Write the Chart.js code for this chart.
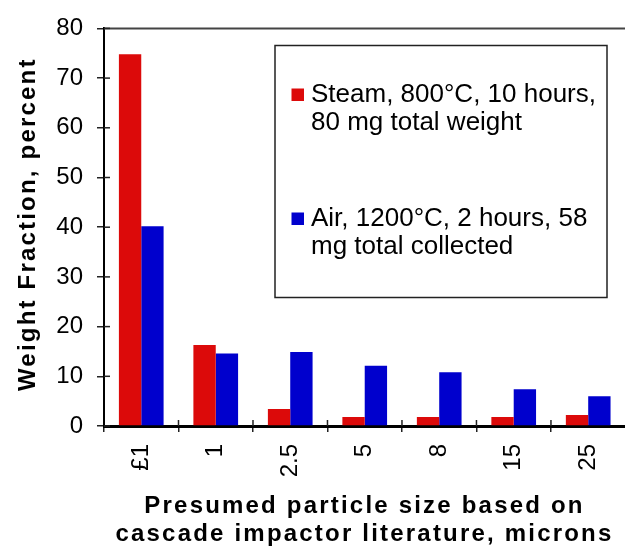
<!DOCTYPE html>
<html>
<head>
<meta charset="utf-8">
<title>Weight fraction by particle size</title>
<script src="https://cdn.jsdelivr.net/npm/chart.js@4.4.1/dist/chart.umd.min.js"></script>
<style>
  html, body { margin: 0; padding: 0; background: #fff; overflow: hidden; }
  /* chart frame runs a few px past the right edge in the original, so the box is wider than the window */
  #wrap { position: relative; width: 629px; height: 546px; }
</style>
</head>
<body>
<div id="wrap"><canvas id="chart"></canvas></div>
<script>
// data
const sizeLabels = ['£1', '1', '2.5', '5', '8', '15', '25'];
const steamValues = [74.8, 16.3, 3.4, 1.8, 1.8, 1.8, 2.2];
const airValues = [40.2, 14.6, 14.9, 12.1, 10.8, 7.4, 6.0];
const steamLegend = ['Steam, 800°C, 10 hours,', '80 mg total weight'];
const airLegend = ['Air, 1200°C, 2 hours, 58', 'mg total collected'];
const yTicks = { min: 0, max: 80, step: 10 };
const yTitle = 'Weight Fraction, percent';
const xTitle = ['Presumed particle size based on', 'cascade impactor literature, microns'];

const FONT = "'Liberation Sans', Arial, Helvetica, sans-serif";
const RED = '#dc0a0a';
const BLUE = '#0000cd';

Chart.defaults.font.family = FONT;
Chart.defaults.color = '#000';

// extra drawing: frame top line, inner half of the ticks, boxed legend, spaced axis titles
const decorations = {
  id: 'decorations',
  afterDraw(chart) {
    const ctx = chart.ctx;
    const area = chart.chartArea;
    const x = chart.scales.x;
    const y = chart.scales.y;

    ctx.save();

    // top edge of the plot frame
    ctx.strokeStyle = '#444';
    ctx.lineWidth = 2;
    ctx.beginPath();
    ctx.moveTo(area.left, area.top);
    ctx.lineTo(chart.width, area.top);
    ctx.stroke();

    // ticks cross the axes: draw the inside half
    ctx.strokeStyle = '#222';
    ctx.lineWidth = 1.5;
    y.ticks.forEach((t, i) => {
      const py = y.getPixelForTick(i);
      ctx.beginPath();
      ctx.moveTo(area.left, py);
      ctx.lineTo(area.left + 6, py);
      ctx.stroke();
    });
    const half = (x.getPixelForTick(1) - x.getPixelForTick(0)) / 2;
    for (let i = 1; i < sizeLabels.length; i++) {
      const px = x.getPixelForTick(i) - half;
      ctx.beginPath();
      ctx.moveTo(px, area.bottom);
      ctx.lineTo(px, area.bottom - 6);
      ctx.stroke();
    }

    // legend box
    const box = { left: 275, top: 45.5, right: 607, bottom: 297.5 };
    ctx.fillStyle = '#fff';
    ctx.fillRect(box.left, box.top, box.right - box.left, box.bottom - box.top);
    ctx.strokeStyle = '#222';
    ctx.lineWidth = 1.5;
    ctx.strokeRect(box.left, box.top, box.right - box.left, box.bottom - box.top);

    ctx.font = '26px ' + FONT;
    ctx.textAlign = 'left';
    ctx.textBaseline = 'alphabetic';
    const itemTops = [102, 226];
    chart.data.datasets.forEach((ds, i) => {
      const base = itemTops[i];
      ctx.fillStyle = ds.backgroundColor;
      ctx.fillRect(291.5, base - 13.5, 12.5, 12.5);
      ctx.fillStyle = '#000';
      ds.legendLines.forEach((line, j) => {
        ctx.fillText(line, 311, base + j * 28);
      });
    });

    // axis titles, bold with wide letter spacing
    ctx.font = 'bold 24px ' + FONT;
    ctx.fillStyle = '#000';
    ctx.letterSpacing = '2.2px';
    ctx.textAlign = 'center';

    ctx.save();
    ctx.translate(35, (area.top + area.bottom) / 2 - 3);
    ctx.rotate(-Math.PI / 2);
    ctx.fillText(yTitle, 0, 0);
    ctx.restore();

    const cx = (area.left + 625) / 2;
    xTitle.forEach((line, j) => {
      ctx.fillText(line, cx, 513 + j * 28);
    });

    ctx.restore();
  }
};

const chart = new Chart(document.getElementById('chart').getContext('2d'), {
  type: 'bar',
  data: {
    labels: sizeLabels,
    datasets: [
      { label: steamLegend.join(' '), legendLines: steamLegend, data: steamValues, backgroundColor: RED, borderWidth: 0 },
      { label: airLegend.join(' '), legendLines: airLegend, data: airValues, backgroundColor: BLUE, borderWidth: 0 }
    ]
  },
  options: {
    responsive: true,
    maintainAspectRatio: false,
    animation: false,
    layout: { padding: { top: 22, right: 0, bottom: 0, left: 0 } },
    datasets: { bar: { categoryPercentage: 0.6, barPercentage: 1.0 } },
    plugins: {
      legend: { display: false },
      tooltip: { enabled: false }
    },
    scales: {
      x: {
        grid: { drawOnChartArea: false, tickLength: 6, color: '#222', lineWidth: 1.5 },
        border: { color: '#000', width: 3 },
        ticks: { minRotation: 90, maxRotation: 90, autoSkip: false, padding: 12, color: '#000', font: { size: 24 } },
        afterFit: (s) => { s.height = 120; }
      },
      y: {
        min: yTicks.min,
        max: yTicks.max,
        grid: { drawOnChartArea: false, tickLength: 7, color: '#222', lineWidth: 1.5 },
        border: { color: '#000', width: 2 },
        ticks: { stepSize: yTicks.step, padding: 14, color: '#000', font: { size: 24 } },
        afterFit: (s) => { s.width = 104; }
      }
    }
  },
  plugins: [decorations]
});
</script>
</body>
</html>
